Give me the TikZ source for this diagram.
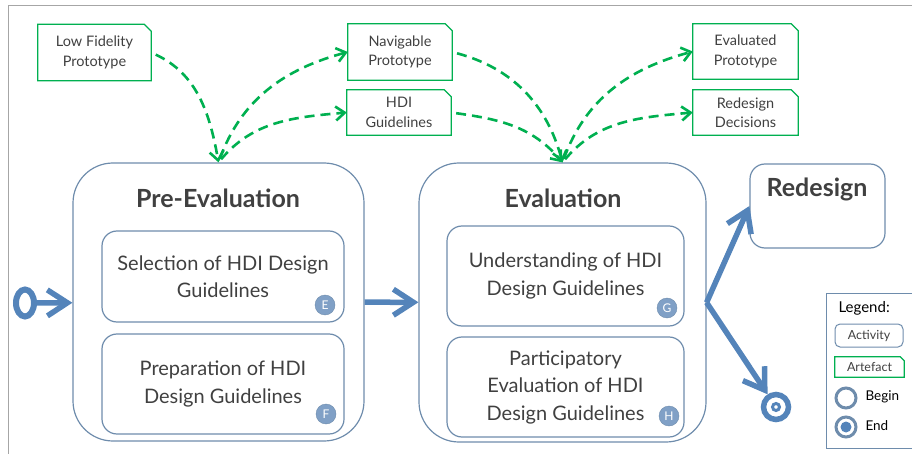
\documentclass[tikz,border=0pt]{standalone}
\usepackage{fontspec}
\setmainfont{Lato}
\usepackage{xcolor}
\usepackage{tikz}
\usetikzlibrary{arrows.meta, shapes.geometric}
\definecolor{boxline}{RGB}{110,140,172}
\definecolor{flowblue}{RGB}{84,132,186}
\definecolor{artgreen}{RGB}{0,176,80}
\definecolor{txt}{RGB}{64,64,64}
\definecolor{badgefill}{RGB}{128,160,198}
\definecolor{framegray}{RGB}{166,166,166}

\begin{document}
\begin{tikzpicture}[x=1pt, y=1pt,
    phase/.style={draw=boxline, line width=1.2pt, rounded corners=40pt},
    activity/.style={draw=boxline, line width=1.2pt, rounded corners=15pt, align=center, text=txt, inner sep=0pt, font=\fontsize{20}{27.5}\selectfont},
    artefact/.style={inner sep=0pt, align=center, text=txt, font=\fontsize{14.5}{19.5}\selectfont},
    title/.style={text=txt, font=\fontsize{25}{25}\selectfont\bfseries},
    badge/.style={circle, draw=boxline, fill=badgefill, text=white, inner sep=0pt, minimum size=20pt, font=\fontsize{12}{12}\selectfont},
    flow/.style={draw=flowblue, line width=5.5pt, -{Straight Barb[length=20pt, width=26pt]}},
    art/.style={draw=artgreen, line width=2.6pt, dash pattern=on 10pt off 6pt, -{Straight Barb[length=9pt, width=14pt]}}]
    \useasboundingbox (0,0) rectangle (912,-454);
    \draw[framegray, line width=1.5pt] (912,-5.5) -- (8.5,-5.5) -- (8.5,-454);

    % artefacts
    \node[artefact, minimum width=113pt, minimum height=56pt] (lowfi) at (94.5,-52.5) {Low Fidelity\\Prototype};
    \node[artefact, minimum width=104pt, minimum height=56pt] (navig) at (400,-52) {Navigable\\Prototype};
    \node[artefact, minimum width=104pt, minimum height=45pt] (hdi) at (399,-112.5) {HDI\\Guidelines};
    \node[artefact, minimum width=105pt, minimum height=55pt] (evalp) at (745.5,-51.5) {Evaluated\\Prototype};
    \node[artefact, minimum width=105pt, minimum height=45pt] (redec) at (745.5,-112.5) {Redesign\\Decisions};

    % phases
    \node[phase, minimum width=291pt, minimum height=278pt] (pre) at (218.5,-302) {};
    \node[title] (pretitle) at (218,-198) {Pre-Evaluation};
    \node[activity, minimum width=242pt, minimum height=91pt] (select) at (223,-276.5) {Selection of HDI Design\\Guidelines};
    \node[activity, minimum width=242pt, minimum height=100pt] (prep) at (223,-384) {Preparation of HDI\\Design Guidelines};
    \node[badge] (bE) at (325,-305) {E};
    \node[badge] (bF) at (326,-414) {F};

    \node[phase, minimum width=287pt, minimum height=279pt] (eval) at (562.5,-302.5) {};
    \node[title] (evaltitle) at (563,-198) {Evaluation};
    \node[activity, minimum width=237pt, minimum height=100pt] (under) at (565.5,-276) {Understanding of HDI\\Design Guidelines};
    \node[activity, minimum width=237pt, minimum height=100pt] (partic) at (565.5,-387) {Participatory\\Evaluation of HDI\\Design Guidelines};
    \node[badge] (bG) at (667,-308) {G};
    \node[badge] (bH) at (669,-416) {H};

    \node[phase, rounded corners=15pt, minimum width=135pt, minimum height=84pt] (redesign) at (817.5,-206) {};
    \node[title] (redtitle) at (817,-189) {Redesign};

    % start and end
    \node[ellipse, draw=flowblue, line width=6pt, minimum width=18pt, minimum height=27pt] (start) at (25,-303) {};
    \node[circle, draw=flowblue, line width=5.5pt, minimum size=25pt] (stop) at (776,-407) {};
    \node[circle, draw=flowblue, line width=3pt, minimum size=7pt, inner sep=0pt] (stopdot) at (776,-407) {};
    \coordinate (split) at (eval.east);

    % legend
    \draw[boxline, line width=1pt] (912,-293) -- (826,-293) -- (826,-448) -- (912,-448);
    \node[anchor=west, text=black, font=\fontsize{15}{15}\selectfont] (legtitle) at (835,-308) {Legend:};
    \node[draw=boxline, line width=1pt, rounded corners=5pt, minimum width=68pt, minimum height=23pt, inner sep=0pt, text=txt, font=\fontsize{12.5}{12.5}\selectfont] (legact) at (869,-335.5) {Activity};
    \node[artefact, minimum width=69pt, minimum height=20pt, font=\fontsize{12.5}{12.5}\selectfont] (legart) at (869.5,-367) {Artefact};
    \node[circle, draw=boxline, line width=3pt, minimum size=20pt] (legbegin) at (846,-398) {};
    \node[anchor=west, font=\fontsize{13.5}{13.5}\selectfont] (legbegintxt) at (862,-397) {Begin};
    \node[circle, draw=boxline, line width=3pt, minimum size=20pt] (legend) at (846,-427) {};
    \node[circle, fill=flowblue, minimum size=11pt, inner sep=0pt] (legenddot) at (846,-427) {};
    \node[anchor=west, font=\fontsize{13.5}{13.5}\selectfont] (legendtxt) at (862,-426) {End};

    % artefact outlines with cut corner
    \foreach \n/\c in {lowfi/7, navig/7, hdi/7, evalp/7, redec/7, legart/4}
        \draw[artgreen, line width=1.2pt] (\n.south west) -- (\n.north west) -- ([xshift=-\c pt]\n.north east) -- ([yshift=-\c pt]\n.north east) -- (\n.south east) -- cycle;

    % control flow
    \draw[flow] (start) -- (pre);
    \draw[flow] (pre) -- (eval);
    \draw[flow] (split) -- (redesign.west);
    \draw[flow] (split) -- (stop);

    % artefact flow
    \draw[art, shorten <=5pt] (lowfi.east) to[out=-25, in=100] (pre.north);
    \draw[art, shorten <=4pt] (pre.north) to[out=70, in=195] (navig.west);
    \draw[art, shorten <=4pt] (pre.north) to[out=50, in=185] (hdi.west);
    \draw[art, shorten <=5pt] (navig.east) to[out=-15, in=105] (eval.north);
    \draw[art, shorten <=5pt] (hdi.east) to[out=-8, in=130] (eval.north);
    \draw[art, shorten <=4pt] (eval.north) to[out=70, in=195] (evalp.west);
    \draw[art, shorten <=4pt] (eval.north) to[out=50, in=185] (redec.west);
\end{tikzpicture}
\end{document}
